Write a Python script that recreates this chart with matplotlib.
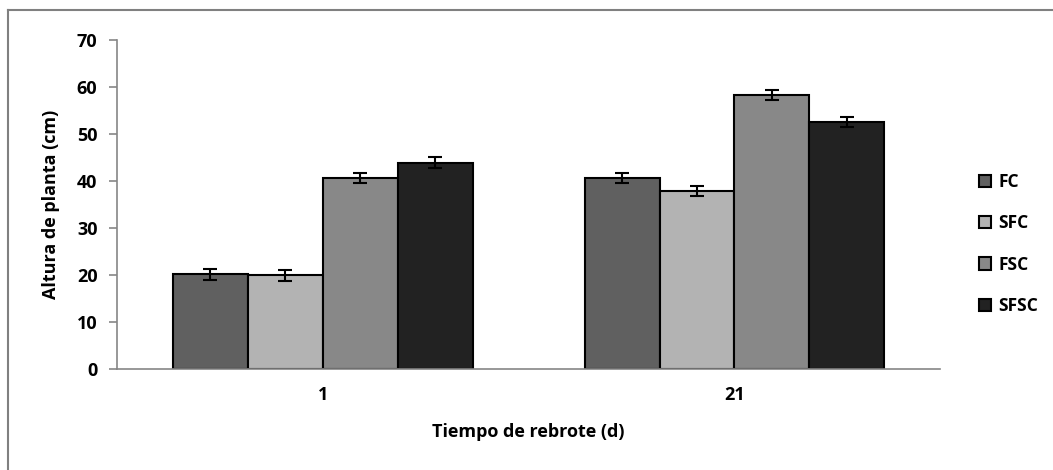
import numpy as np
import matplotlib.pyplot as plt
from matplotlib.lines import Line2D

plt.rcParams['font.family'] = ['Open Sans', 'DejaVu Sans']
plt.rcParams['font.weight'] = 'bold'

dias = ['1', '21']
tratamientos = ['FC', 'SFC', 'FSC', 'SFSC']
altura = [[20.1, 40.6],   # FC
          [19.9, 37.9],   # SFC
          [40.6, 58.3],   # FSC
          [43.9, 52.6]]   # SFSC
error = [[1.1, 1.1],
         [1.1, 1.1],
         [1.1, 1.1],
         [1.1, 1.1]]
colores = ['#606060', '#b3b3b3', '#888888', '#222222']

fig = plt.figure(figsize=(10.53, 4.70), dpi=100)
ax = fig.add_axes([0.111, 0.215, 0.782, 0.70])

x = np.arange(len(dias))
ancho = 0.182
for i in range(4):
    pos = x + (i - 1.5) * ancho
    ax.bar(pos, altura[i], ancho, color=colores[i], edgecolor='black',
           linewidth=1.5, label=tratamientos[i], zorder=2)
    ax.errorbar(pos, altura[i], yerr=error[i], fmt='none', ecolor='black',
                elinewidth=1.5, capsize=5, capthick=1.5, zorder=3)

ax.set_xlim(-0.5, 1.5)
ax.set_ylim(0, 70)
ax.set_yticks(range(0, 71, 10))
ax.set_xticks(x)
ax.set_xticklabels(dias)
ax.tick_params(axis='x', length=0, pad=12, labelsize=13)
ax.tick_params(axis='y', length=6, color='#868686', width=1.2, labelsize=13, pad=8)
for s in ['top', 'right']:
    ax.spines[s].set_visible(False)
for s in ['left', 'bottom']:
    ax.spines[s].set_color('#868686')
    ax.spines[s].set_linewidth(1.2)

ax.set_xlabel('Tiempo de rebrote (d)', fontsize=13, fontweight='bold', labelpad=14)
ax.set_ylabel('Altura de planta (cm)', fontsize=13, fontweight='bold', labelpad=12)

ax.legend(loc='center left', bbox_to_anchor=(1.028, 0.38), frameon=False,
          fontsize=12.5, handlelength=0.7, handleheight=0.7, handletextpad=0.4,
          labelspacing=1.35)

# marco del grafico (solo arriba e izquierda)
fig.add_artist(Line2D([8 / 1053, 8 / 1053], [0, 1 - 10 / 470], color='#808080', lw=1.5))
fig.add_artist(Line2D([8 / 1053, 1], [1 - 10 / 470, 1 - 10 / 470], color='#808080', lw=1.5))

fig.savefig('out.png', dpi=100)
